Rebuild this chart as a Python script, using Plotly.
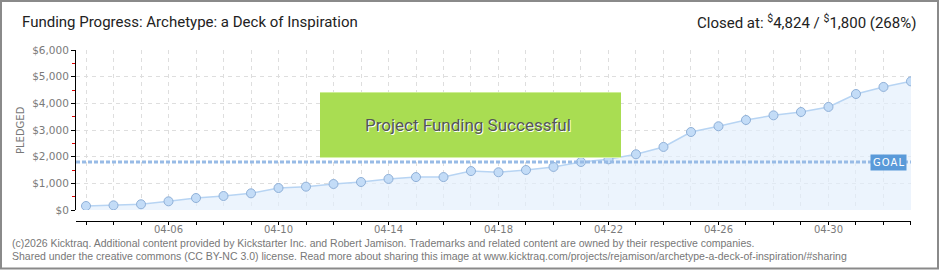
import pandas as pd
import plotly.graph_objects as go

# ---- data ----
dates = pd.date_range("2016-04-03", "2016-05-03", freq="D").strftime("%Y-%m-%d").tolist()
pledged = [150, 175, 215, 325, 450, 525, 625, 825, 875, 975, 1050, 1165, 1235, 1235,
           1460, 1415, 1500, 1615, 1800, 1900, 2090, 2365, 2925, 3140, 3375, 3550,
           3675, 3865, 4350, 4615, 4824]
goal = 1800
title_left = "Funding Progress: Archetype: a Deck of Inspiration"
title_right = "Closed at: <sup>$</sup>4,824 / <sup>$</sup>1,800 (268%)"
footer1 = ("(c)2026 Kicktraq. Additional content provided by Kickstarter Inc. and Robert Jamison. "
           "Trademarks and related content are owned by their respective companies.")
footer2 = ("Shared under the creative commons (CC BY-NC 3.0) license. Read more about sharing this image at "
           "www.kicktraq.com/projects/rejamison/archetype-a-deck-of-inspiration/#sharing")

# ---- layout geometry (pixels) ----
W, H = 940, 270
L, R, T, B = 76, 911, 50, 221
pw, ph = R - L, B - T


def px(x):
    return (x - L) / pw


def py(y):
    return (B - y) / ph


fig = go.Figure()
fig.add_trace(go.Scatter(
    x=dates, y=pledged, mode="lines+markers",
    line=dict(color="#b7d4f3", width=1.5),
    marker=dict(size=9, color="#c3dcf7", line=dict(color="#8fb0d8", width=1)),
    fill="tozeroy", fillcolor="rgba(226,238,252,0.65)",
    hoverinfo="skip", showlegend=False,
))

grid = dict(gridcolor="#dedede", griddash="4px,4px", gridwidth=1)

fig.update_layout(
    width=W, height=H,
    margin=dict(l=L, r=W - R, t=T, b=H - B),
    paper_bgcolor="white", plot_bgcolor="white",
    xaxis=dict(
        type="date", range=["2016-04-02 15:16", "2016-05-03 00:01"],
        anchor="free", position=0,
        tick0="2016-04-06", dtick=4 * 86400000, tickformat="%m-%d",
        ticks="outside", ticklen=3, tickcolor="black", tickwidth=1,
        ticklabelstandoff=-4,
        showline=True, linecolor="black", linewidth=1,
        showgrid=True, **grid,
        minor=dict(dtick=86400000, ticks="outside", ticklen=3, tickcolor="black",
                   showgrid=True, **grid),
        tickfont=dict(family="DejaVu Sans", size=10, color="#7a7a7a"),
        zeroline=False,
    ),
    yaxis=dict(
        range=[0, 6000], domain=[py(210), 1],
        dtick=1000, tickprefix="$", tickformat=",d",
        ticks="outside", ticklen=4, tickcolor="black",
        showline=True, linecolor="black", linewidth=1,
        showgrid=True, **grid,
        minor=dict(dtick=500, ticks="outside", ticklen=3, tickcolor="#e00000", showgrid=False),
        tickfont=dict(family="DejaVu Sans", size=10.5, color="#7a7a7a"),
        zeroline=False,
    ),
)

shapes = [
    # goal line
    dict(type="line", xref="paper", yref="y", x0=0, x1=1, y0=goal, y1=goal,
         line=dict(color="#98bbe6", width=3, dash="4px,2px"), layer="above"),
    # success box
    dict(type="rect", xref="paper", yref="paper", x0=px(320), x1=px(621), y0=py(158), y1=py(92),
         fillcolor="#a9dd52", line=dict(width=0), layer="above"),
    dict(type="line", xref="paper", yref="paper", x0=px(320), x1=px(621), y0=py(92.5), y1=py(92.5),
         line=dict(color="#cdee95", width=1), layer="above"),
    dict(type="line", xref="paper", yref="paper", x0=px(320), x1=px(621), y0=py(157.5), y1=py(157.5),
         line=dict(color="#d6f2a6", width=1), layer="above"),
    # outer frame
    dict(type="rect", xref="paper", yref="paper", x0=px(1), x1=px(938), y0=py(268.5), y1=py(1),
         line=dict(color="#8a8a8a", width=2), fillcolor="rgba(0,0,0,0)", layer="above"),
]
fig.update_layout(shapes=shapes)

ann = [
    dict(text=title_left, x=px(20), y=py(22), xanchor="left", yanchor="middle",
         font=dict(family="Roboto", size=15, color="#222")),
    dict(text=title_right, x=px(918), y=py(22), xanchor="right", yanchor="middle",
         font=dict(family="Roboto", size=15, color="#222")),
    dict(text="Project Funding Successful", x=px(468), y=py(125), xanchor="center", yanchor="middle",
         font=dict(family="Roboto", size=17, color="#555", shadow="1px 1px 0px #ffffff")),
    dict(text="G\u200aO\u200aA\u200aL", x=px(888), y=goal, yref="y", xanchor="center", yanchor="middle",
         bgcolor="#5a9ad9", borderpad=2, font=dict(family="DejaVu Sans", size=10, color="white")),
    dict(text="PLEDGED", x=px(20), y=py(130), textangle=-90, xanchor="center", yanchor="middle",
         font=dict(family="DejaVu Sans", size=10, color="#777")),
    dict(text=footer1, x=px(10), y=py(243), xanchor="left", yanchor="middle",
         font=dict(family="Liberation Sans", size=10.5, color="#777")),
    dict(text=footer2, x=px(10), y=py(256), xanchor="left", yanchor="middle",
         font=dict(family="Liberation Sans", size=10.5, color="#777")),
]
for a in ann:
    a.setdefault("xref", "paper")
    a.setdefault("yref", "paper")
    a["showarrow"] = False
fig.update_layout(annotations=ann)

fig.write_html("out.html")
